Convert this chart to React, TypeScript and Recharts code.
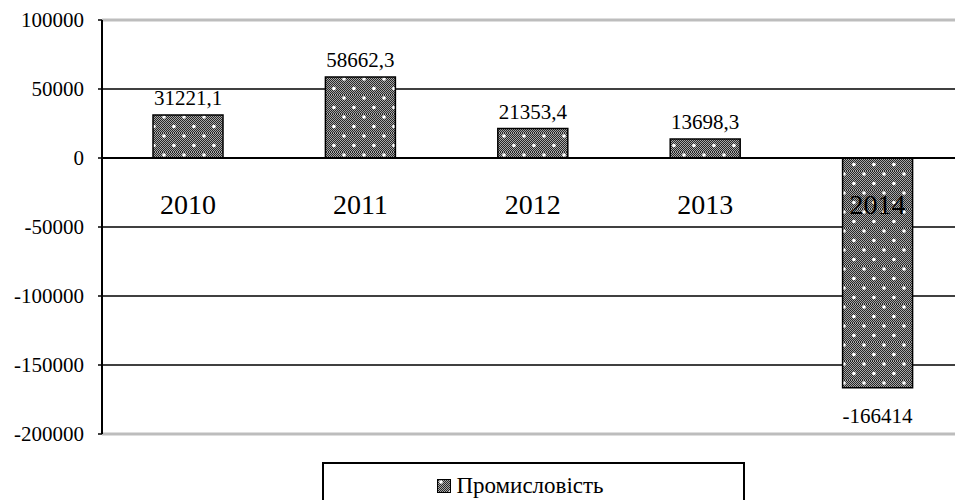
import { Bar, BarChart, CartesianGrid, LabelList, ReferenceLine, XAxis, YAxis } from "recharts";

const years = ["2010", "2011", "2012", "2013", "2014"];
const industry = [31221.1, 58662.3, 21353.4, 13698.3, -166414];
const yTicks = [-200000, -150000, -100000, -50000, 0, 50000, 100000];
const seriesName = "Промисловість";

const rows = years.map((year, i) => ({ year, industry: industry[i] }));

const FONT = "Liberation Serif";

const fmt = (v: number) => String(v).replace(".", ",");

function Patterns() {
  return (
    <svg width={0} height={0} style={{ position: "absolute" }}>
      <defs>
        <pattern id="dither" width={2} height={2} patternUnits="userSpaceOnUse">
          <rect width={2} height={2} fill="#a8a8a8" />
          <rect x={0} y={0} width={1} height={1} fill="#262626" />
          <rect x={1} y={1} width={1} height={1} fill="#262626" />
        </pattern>
        <pattern id="dots" width={20} height={19} patternUnits="userSpaceOnUse">
          <rect width={20} height={19} fill="url(#dither)" />
          <circle cx={4} cy={3} r={1.8} fill="#fff" />
          <circle cx={14} cy={12.5} r={1.8} fill="#fff" />
        </pattern>
      </defs>
    </svg>
  );
}

function ValueLabel(p: any) {
  const y = Number(p.y);
  const h = Number(p.height);
  const cx = Number(p.x) + Number(p.width) / 2;
  const top = Math.min(y, y + h);
  const bottom = Math.max(y, y + h);
  const ty = Number(p.value) >= 0 ? top - 17 : bottom + 28;
  return (
    <text x={cx} y={ty} textAnchor="middle" dominantBaseline="central" fontFamily={FONT} fontSize={21} fill="#000">
      {fmt(Number(p.value))}
    </text>
  );
}

function YearLabel(p: any) {
  const y = Number(p.y);
  const h = Number(p.height);
  const cx = Number(p.x) + Number(p.width) / 2;
  const zy = industry[p.index] >= 0 ? Math.max(y, y + h) : Math.min(y, y + h);
  return (
    <text x={cx} y={zy + 46} textAnchor="middle" dominantBaseline="central" fontFamily={FONT} fontSize={28} fill="#000">
      {years[p.index]}
    </text>
  );
}

function LegendBox() {
  return (
    <div
      style={{
        position: "absolute",
        left: 322,
        top: 462,
        width: 423,
        height: 46,
        border: "2px solid #000",
        boxSizing: "border-box",
        display: "flex",
        alignItems: "center",
        justifyContent: "center",
        paddingTop: 2,
        paddingRight: 26,
        fontFamily: FONT,
        fontSize: 23,
        color: "#000",
        background: "#fff",
      }}
    >
      <svg width={14} height={14} style={{ marginRight: 5 }}>
        <rect x={0.5} y={0.5} width={13} height={13} fill="url(#dots)" stroke="#000" />
      </svg>
      {seriesName}
    </div>
  );
}

export default function App() {
  return (
    <div style={{ position: "absolute", left: 0, top: 0, width: 955, height: 500, overflow: "hidden", background: "#fff" }}>
      <Patterns />
      <BarChart width={964} height={500} data={rows} margin={{ top: 20, right: 0, bottom: 66, left: 1 }}>
        <CartesianGrid vertical={false} stroke="#000" strokeWidth={1.6} />
        <XAxis dataKey="year" hide />
        <YAxis
          width={101}
          domain={[-200000, 100000]}
          ticks={yTicks}
          interval={0}
          tickSize={4}
          tickMargin={14}
          axisLine={{ stroke: "#000", strokeWidth: 2 }}
          tickLine={{ stroke: "#000", strokeWidth: 1.5 }}
          tick={{ fontFamily: FONT, fontSize: 21, fill: "#000" }}
        />
        <ReferenceLine y={100000} stroke="#bdbdbd" strokeWidth={3} />
        <ReferenceLine y={-200000} stroke="#bdbdbd" strokeWidth={3} />
        <Bar dataKey="industry" name={seriesName} fill="url(#dots)" stroke="#000" strokeWidth={1.5} barSize={70} isAnimationActive={false}>
          <LabelList dataKey="industry" content={ValueLabel} />
          <LabelList dataKey="industry" content={YearLabel} />
        </Bar>
        <ReferenceLine y={0} stroke="#000" strokeWidth={2.2} />
      </BarChart>
      <LegendBox />
    </div>
  );
}
